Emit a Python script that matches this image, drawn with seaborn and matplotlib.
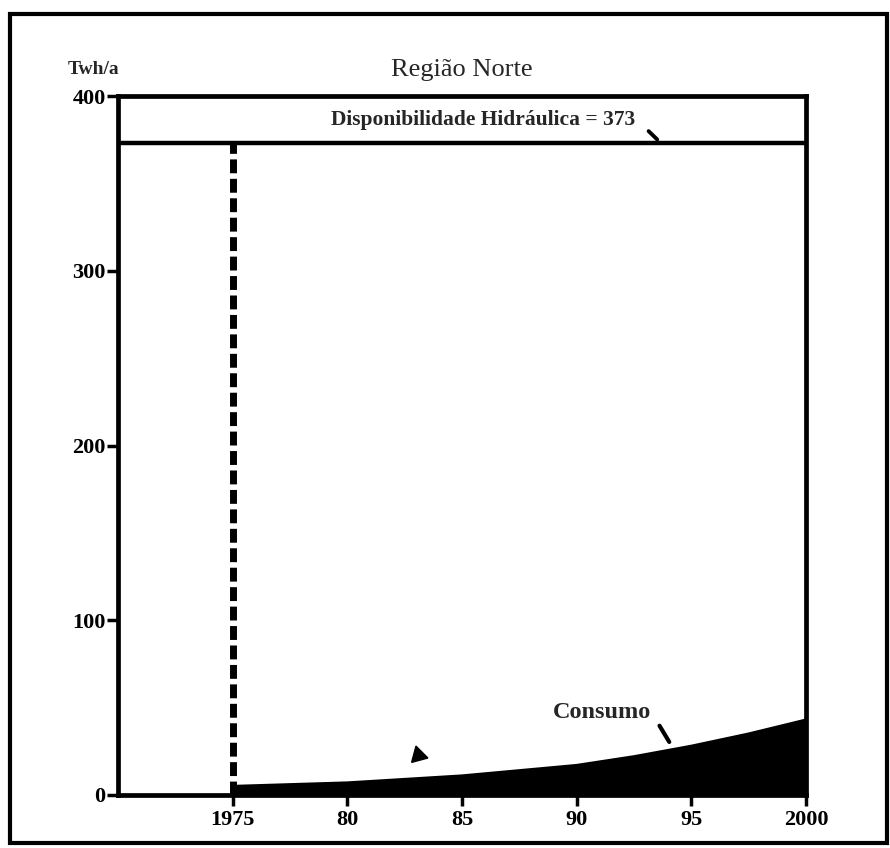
import matplotlib
matplotlib.use("Agg")
import matplotlib.pyplot as plt
import seaborn as sns
import pandas as pd
from matplotlib.patches import Rectangle

# data
anos = [1975, 1977.5, 1980, 1982.5, 1985, 1987.5, 1990, 1992.5, 1995, 1997.5, 2000]
consumo = [5, 6, 7, 9, 11, 14, 17, 22, 28, 35, 43]
disponibilidade = 373
xticks = [1975, 1980, 1985, 1990, 1995, 2000]
xlabels = ["1975", "80", "85", "90", "95", "2000"]
yticks = [0, 100, 200, 300, 400]

sns.set_style("ticks")
plt.rcParams['font.family'] = ['Liberation Serif', 'DejaVu Serif']

df = pd.DataFrame({'ano': anos, 'consumo': consumo})

fig = plt.figure(figsize=(8.9, 8.48), dpi=100)
ax = fig.add_axes([118/890, 1 - 795/848, 688/890, 699/848])

# consumo area
sns.lineplot(data=df, x='ano', y='consumo', color='black', lw=2, ax=ax)
ax.fill_between(df['ano'], 0, df['consumo'], color='black', lw=0)

# disponibilidade
ax.axhline(disponibilidade, color='black', lw=3.2)
ax.plot([1975, 1975], [0, disponibilidade], color='black', lw=5,
        dashes=(2.0, 0.8))

ax.set_xlim(1970, 2000)
ax.set_ylim(0, 400)
ax.set_xticks(xticks)
ax.set_xticklabels(xlabels)
ax.set_yticks(yticks)
ax.set_xlabel('')
ax.set_ylabel('')
for s in ax.spines.values():
    s.set_linewidth(3.4)
    s.set_color('black')
ax.tick_params(axis='both', direction='out', length=8, width=2.5, colors='black',
               labelsize=16)
ax.tick_params(axis='x', pad=3)
ax.tick_params(axis='y', pad=1)
for lab in ax.get_xticklabels() + ax.get_yticklabels():
    lab.set_fontweight('bold')

ax.text(1985.9, 386.5, 'Disponibilidade Hidráulica = 373', ha='center', va='center',
        fontsize=15.5, fontweight='bold')
ax.annotate('', xy=(1993.6, disponibilidade + 1), xytext=(1993.05, 381),
            arrowprops=dict(arrowstyle='-', lw=2.8, color='black'))
ax.text(1991.1, 47, 'Consumo', ha='center', va='center', fontsize=17.5,
        fontweight='bold')
ax.annotate('', xy=(1994.1, 29), xytext=(1993.55, 41),
            arrowprops=dict(arrowstyle='-', lw=3, color='black'))
# small smudge-like arrowhead near the curve
ax.plot([1983.1], [23], marker=(3, 0, 135), color='black', markersize=14)

# headings
fig.text(68/890, 1 - 70/848, 'Twh/a', ha='left', va='center', fontsize=14,
         fontweight='bold')
fig.text(462/890, 1 - 70/848, 'Região Norte', ha='center', va='center', fontsize=19)

# outer frame
fig.patches.append(Rectangle((10/890, 1 - 843/848), 877/890, 829/848,
                             transform=fig.transFigure, fill=False,
                             lw=3, edgecolor='black'))

fig.savefig('out.png', dpi=100)
